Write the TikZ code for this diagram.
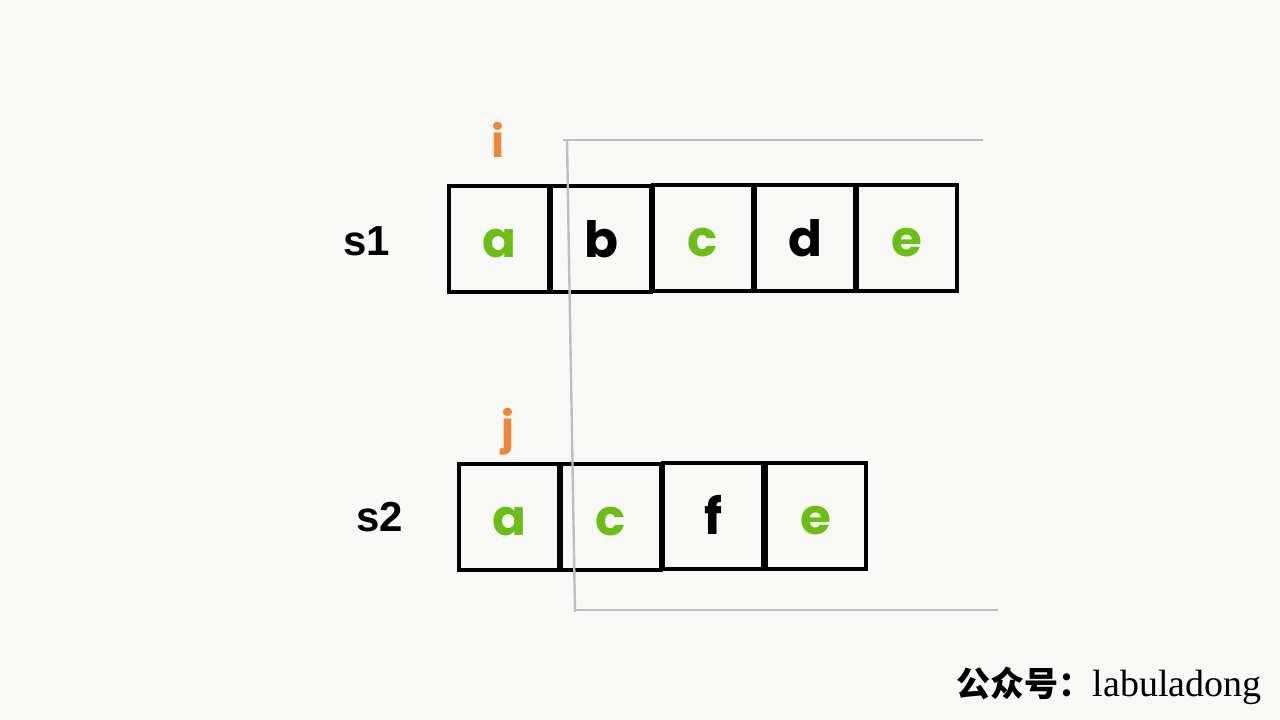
\documentclass[tikz,border=0pt]{standalone}
\usepackage{fontspec}
\setmainfont{Liberation Serif}
\newfontfamily\letfont{Poppins}
\newfontfamily\labfont{Liberation Sans}
\newfontfamily\cjk{Noto Sans CJK SC}
\definecolor{bggray}{RGB}{248,248,246}
\definecolor{lgreen}{RGB}{106,190,22}
\definecolor{ptrorange}{RGB}{238,136,56}
\definecolor{brgray}{RGB}{190,190,190}
\begin{document}
\begin{tikzpicture}[x=1pt,y=-1pt,
  cell/.style={draw=black,line width=3.2pt,minimum width=100pt,minimum height=106pt,inner sep=0pt,text height=36pt,text depth=0pt,font=\letfont\bfseries\fontsize{50}{50}\selectfont},
  gch/.style={text=lgreen},
  kch/.style={text=black},
  ptr/.style={text=ptrorange,font=\letfont\bfseries\fontsize{44}{44}\selectfont},
  strlab/.style={font=\labfont\bfseries\fontsize{42}{42}\selectfont},
  bracket/.style={draw=brgray,line width=2.4pt}]
\fill[bggray] (0,0) rectangle (1280,720);
\useasboundingbox (0,0) rectangle (1280,720);
% s1
\node[cell,gch] (a1) at (499,239) {a};
\node[cell,kch] (b1) at (601,239) {b};
\node[cell,gch] (c1) at (703,238) {c};
\node[cell,kch] (d1) at (805,238) {d};
\node[cell,gch] (e1) at (907,238) {e};
% s2
\node[cell,gch] (a2) at (509,517) {a};
\node[cell,gch] (c2) at (611,517) {c};
\node[cell,kch] (f2) at (713,516) {f};
\node[cell,gch] (e2) at (816,516) {e};
% labels
\node[strlab] (s1) at (367,241) {s1};
\node[strlab] (s2) at (380,517) {s2};
\node[ptr] (i) at (498,140) {i};
\node[ptr] (j) at (508,432) {j};
% bracket
\coordinate (tr) at (983,140);
\coordinate (tl) at (563,140);
\coordinate (vt) at (567,140);
\coordinate (vb) at (575,612);
\coordinate (bl) at (575,610);
\coordinate (br) at (998,610);
\draw[bracket] (tl) -- (tr);
\draw[bracket] (vt) -- (vb);
\draw[bracket] (bl) -- (br);
% watermark
\node[anchor=east,inner sep=0pt] (wm) at (1262,686) {{\cjk\bfseries\fontsize{34}{34}\selectfont 公众号：}{\fontsize{38}{38}\selectfont labuladong}};
\end{tikzpicture}
\end{document}
